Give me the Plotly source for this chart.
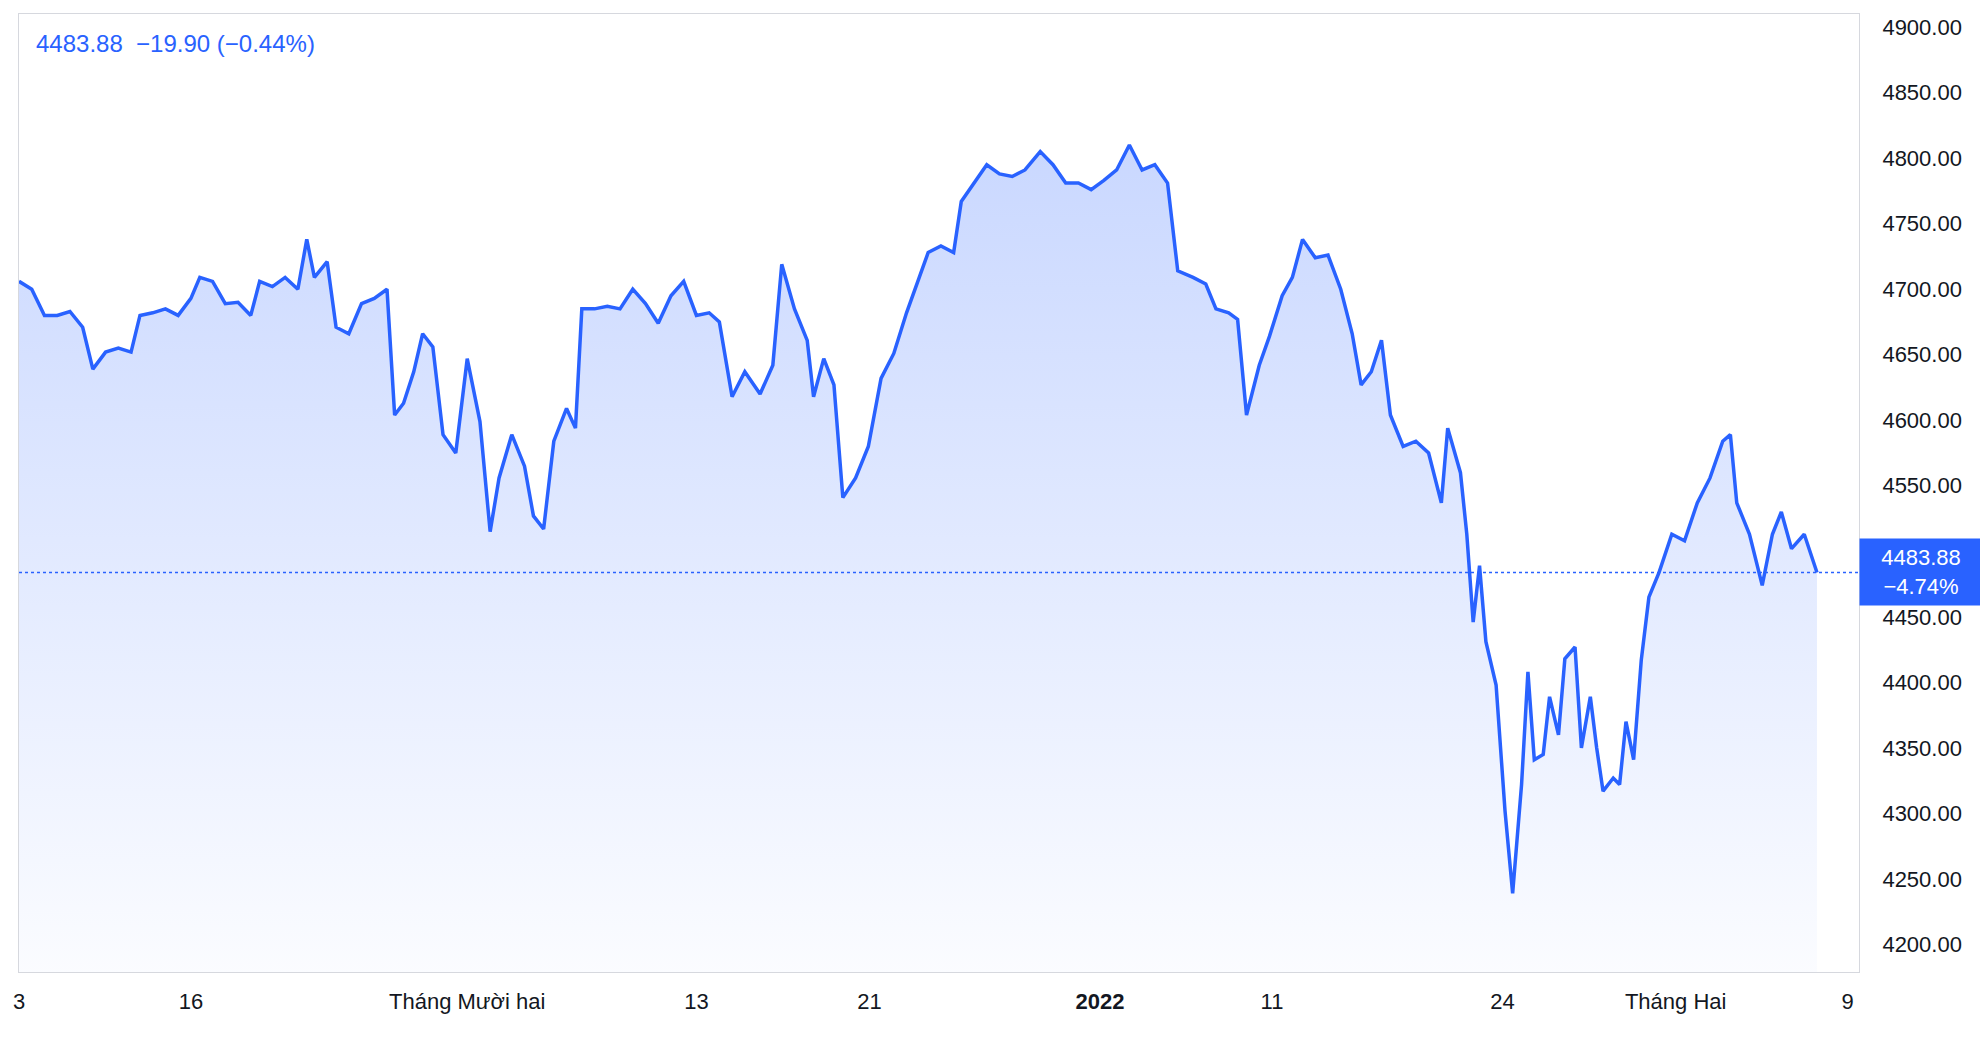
import plotly.graph_objects as go

# time offsets (chart sessions, arbitrary units) and index level
t = [8, 18, 28, 38, 48, 58, 66, 76, 86, 96, 103, 113, 123, 133, 143, 150, 160, 170, 180, 190,
     197, 207, 217, 227, 234, 240, 250, 257, 267, 277, 287, 297, 303, 310, 318, 325, 333, 341, 351, 360,
     370, 378, 385, 395, 405, 412, 420, 428, 438, 445, 450, 460, 470, 480, 490, 500, 510, 520, 530, 540,
     550, 558, 568, 578, 590, 600, 607, 617, 627, 632, 640, 648, 655, 665, 675, 685, 695, 705, 715, 722,
     732, 742, 748, 758, 768, 778, 788, 798, 810, 820, 830, 840, 850, 860, 870, 880, 890, 900, 910, 918,
     930, 940, 948, 958, 965, 972, 982, 990, 1000, 1008, 1016, 1026, 1036, 1046, 1055, 1062, 1070, 1078, 1085, 1095,
     1105, 1115, 1125, 1130, 1140, 1145, 1150, 1155, 1160, 1168, 1175, 1181, 1188, 1193, 1198, 1205, 1210, 1217, 1222, 1230,
     1235, 1242, 1247, 1252, 1260, 1265, 1270, 1276, 1282, 1288, 1296, 1306, 1316, 1326, 1336, 1346, 1352, 1357, 1367, 1377,
     1385, 1392, 1400, 1410, 1420]
price = [4706, 4700, 4680, 4680, 4683, 4671, 4639, 4652, 4655, 4652, 4680, 4682, 4685, 4680, 4693, 4709, 4706, 4689, 4690, 4680,
         4706, 4702, 4709, 4700, 4738, 4709, 4721, 4671, 4666, 4689, 4693, 4700, 4604, 4613, 4637, 4666, 4656, 4589, 4575, 4647,
         4599, 4515, 4556, 4589, 4565, 4527, 4517, 4584, 4609, 4594, 4685, 4685, 4687, 4685, 4700, 4689, 4674, 4695, 4706, 4680,
         4682, 4675, 4618, 4637, 4620, 4642, 4719, 4685, 4661, 4618, 4647, 4627, 4541, 4556, 4580, 4632, 4651, 4682, 4709, 4728,
         4733, 4728, 4767, 4781, 4795, 4788, 4786, 4791, 4805, 4795, 4781, 4781, 4776, 4783, 4791, 4810, 4791, 4795, 4781, 4714,
         4709, 4704, 4685, 4682, 4677, 4604, 4642, 4664, 4695, 4709, 4738, 4724, 4726, 4700, 4666, 4627, 4637, 4661, 4604, 4580,
         4584, 4575, 4537, 4594, 4560, 4513, 4446, 4489, 4431, 4398, 4302, 4239, 4322, 4408, 4341, 4345, 4389, 4360, 4418, 4427,
         4350, 4389, 4350, 4317, 4327, 4322, 4370, 4341, 4417, 4465, 4484, 4513, 4508, 4537, 4556, 4584, 4589, 4537, 4513, 4474,
         4513, 4530, 4502, 4513, 4483.88]

tick_pos = [8, 143, 360, 540, 676, 857, 992, 1173, 1309, 1444]
tick_text = ["3", "16", "Tháng Mười hai", "13", "21", "<b>2022</b>", "11", "24", "Tháng Hai", "9"]
y_ticks = [4200, 4250, 4300, 4350, 4400, 4450, 4500, 4550, 4600, 4650, 4700, 4750, 4800, 4850, 4900]

last = 4483.88
blue = "#2962FF"
base = 4179

fig = go.Figure()
fig.add_trace(go.Scatter(x=[t[0], t[-1]], y=[base, base], mode="lines",
                         line=dict(width=0), hoverinfo="skip", showlegend=False))
fig.add_trace(go.Scatter(x=t, y=price, mode="lines", fill="tonexty",
                         line=dict(color=blue, width=3.5),
                         fillgradient=dict(type="vertical",
                                           colorscale=[[0, "rgba(41,98,255,0.02)"], [1, "rgba(41,98,255,0.25)"]]),
                         showlegend=False))

fig.add_hline(y=last, line=dict(color=blue, width=1.5, dash="dot"))

fig.update_layout(
    width=1988, height=1050, plot_bgcolor="white", paper_bgcolor="white",
    margin=dict(l=11, r=137, t=6, b=86),
    font=dict(family="Liberation Sans, Arial", size=22, color="#131722"),
    xaxis=dict(range=[8, 1453], tickvals=tick_pos, ticktext=tick_text, showgrid=False,
               zeroline=False, showline=True, linecolor="#d6d8de", mirror=True, ticks="",
               ticklabelstandoff=10),
    yaxis=dict(range=[base, 4910], side="right", tickvals=y_ticks,
               ticktext=[f"{v:.2f}" for v in y_ticks], showgrid=False, zeroline=False,
               showline=True, linecolor="#d6d8de", mirror=True, ticks="", ticklabelstandoff=18),
    annotations=[
        dict(xref="paper", yref="paper", x=0.008, y=0.985, xanchor="left", yanchor="top",
             text="4483.88  −19.90 (−0.44%)", showarrow=False, font=dict(color=blue, size=24)),
        dict(xref="paper", yref="y", x=1.0, y=last, xanchor="left", yanchor="middle",
             text="4483.88<br>−4.74%", showarrow=False, bgcolor=blue, align="center",
             font=dict(color="white", size=22), borderpad=6, width=110),
    ],
)

fig.write_html("out.html")
